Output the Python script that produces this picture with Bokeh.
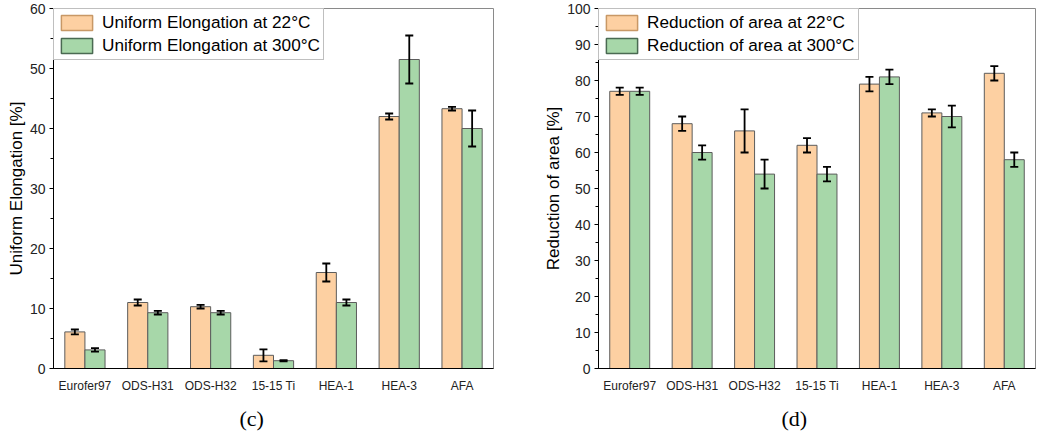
from bokeh.plotting import figure
from bokeh.models import (FactorRange, Range1d, ColumnDataSource, Whisker, TeeHead,
                          Legend, LegendItem, SingleIntervalTicker, Title)
from bokeh.transform import dodge
from bokeh.layouts import row
from bokeh.embed import file_html
from bokeh.resources import INLINE

materials = ["Eurofer97", "ODS-H31", "ODS-H32", "15-15 Ti", "HEA-1", "HEA-3", "AFA"]

ue_22 = [6.1, 11.0, 10.3, 2.2, 16.0, 42.0, 43.3]
ue_22_err = [0.4, 0.5, 0.3, 1.0, 1.5, 0.5, 0.3]
ue_300 = [3.1, 9.3, 9.3, 1.3, 11.0, 51.5, 40.0]
ue_300_err = [0.3, 0.3, 0.3, 0.1, 0.5, 4.0, 3.0]

ra_22 = [77, 68, 66, 62, 79, 71, 82]
ra_22_err = [1, 2, 6, 2, 2, 1, 2]
ra_300 = [77, 60, 54, 54, 81, 70, 58]
ra_300_err = [1, 2, 4, 2, 2, 3, 2]

ORANGE = "#FDD0A2"
GREEN = "#A7D7A9"
BAR_LINE = "#5c5c5c"
SANS = "Liberation Sans"


def panel(v22, e22, v300, e300, ymax, ylabel, leg22, leg300, caption,
          width, border_left, border_right, cap_offset):
    src = ColumnDataSource(dict(
        mat=materials,
        v22=v22, u22=[a + b for a, b in zip(v22, e22)], l22=[a - b for a, b in zip(v22, e22)],
        v300=v300, u300=[a + b for a, b in zip(v300, e300)], l300=[a - b for a, b in zip(v300, e300)],
    ))
    p = figure(x_range=FactorRange(*materials, range_padding=0), y_range=Range1d(0, ymax),
               width=width, height=439, output_backend="svg", toolbar_location=None,
               min_border_left=border_left, min_border_right=border_right,
               min_border_top=8, min_border_bottom=70)
    p.xgrid.visible = False
    p.ygrid.visible = False
    p.outline_line_color = "#8a8a8a"
    p.outline_line_width = 1
    p.background_fill_color = "white"
    p.border_fill_color = "white"

    x22 = dodge("mat", -0.16, range=p.x_range)
    x300 = dodge("mat", 0.16, range=p.x_range)
    p.vbar(x=x22, top="v22", width=0.32, source=src, fill_color=ORANGE,
           line_color=BAR_LINE, line_width=1)
    p.vbar(x=x300, top="v300", width=0.32, source=src, fill_color=GREEN,
           line_color=BAR_LINE, line_width=1)

    for base, up, lo in ((x22, "u22", "l22"), (x300, "u300", "l300")):
        w = Whisker(base=base, upper=up, lower=lo, source=src, level="overlay",
                    line_color="black", line_width=1.8,
                    upper_head=TeeHead(size=8, line_color="black", line_width=1.8),
                    lower_head=TeeHead(size=8, line_color="black", line_width=1.8))
        p.add_layout(w)

    # legend swatches: bars placed above the visible range (clipped away)
    dummy = ColumnDataSource(dict(x=[materials[0]], top=[3 * ymax], bottom=[2 * ymax]))
    r1 = p.vbar(x="x", top="top", bottom="bottom", width=0.3, source=dummy,
                fill_color=ORANGE, line_color="#c89866", line_width=1.5)
    r2 = p.vbar(x="x", top="top", bottom="bottom", width=0.3, source=dummy,
                fill_color=GREEN, line_color="#4a6a52", line_width=1.5)
    leg = Legend(items=[LegendItem(label=leg22, renderers=[r1]),
                        LegendItem(label=leg300, renderers=[r2])],
                 location="top_left", margin=0, padding=3, spacing=2,
                 glyph_width=39, glyph_height=19, label_height=19, label_standoff=6,
                 label_text_font=SANS, label_text_font_size="17.2px", label_text_color="black",
                 border_line_color="#808080", border_line_width=1,
                 background_fill_color="white", background_fill_alpha=1)
    p.add_layout(leg)

    ya = p.yaxis[0]
    ya.ticker = SingleIntervalTicker(interval=10, num_minor_ticks=2)
    ya.axis_line_color = "black"
    ya.major_tick_line_color = "black"
    ya.minor_tick_line_color = "black"
    ya.major_tick_in = 0
    ya.major_tick_out = 4
    ya.minor_tick_in = 0
    ya.minor_tick_out = 3
    ya.major_label_standoff = 4
    ya.major_label_text_font = SANS
    ya.major_label_text_font_size = "14px"
    ya.major_label_text_color = "#222222"
    ya.axis_label = ylabel
    ya.axis_label_text_font = SANS
    ya.axis_label_text_font_size = "17px"
    ya.axis_label_text_font_style = "normal"
    ya.axis_label_text_color = "black"
    ya.axis_label_standoff = 1

    xa = p.xaxis[0]
    xa.axis_line_color = "black"
    xa.major_tick_line_color = None
    xa.minor_tick_line_color = None
    xa.major_tick_out = 0
    xa.major_tick_in = 0
    xa.major_label_standoff = 10
    xa.major_label_text_font = SANS
    xa.major_label_text_font_size = "12px"
    xa.major_label_text_color = "#222222"

    kw = dict(text=caption, align="left", offset=cap_offset, text_font="Liberation Serif",
              text_font_size="22px", text_font_style="normal", text_color="black")
    try:
        t = Title(standoff=17, **kw)
    except Exception:
        t = Title(**kw)
    p.add_layout(t, "below")
    return p


p1 = panel(ue_22, ue_22_err, ue_300, ue_300_err, 60, "Uniform Elongation [%]",
           "Uniform Elongation at 22°C", "Uniform Elongation at 300°C", "(c)",
           520, 53, 27, 186)
p2 = panel(ra_22, ra_22_err, ra_300, ra_300_err, 100, "Reduction of area [%]",
           "Reduction of area at 22°C", "Reduction of area at 300°C", "(d)",
           525, 78, 10, 183)

layout = row(p1, p2)
open("out.html", "w").write(file_html(layout, INLINE))
